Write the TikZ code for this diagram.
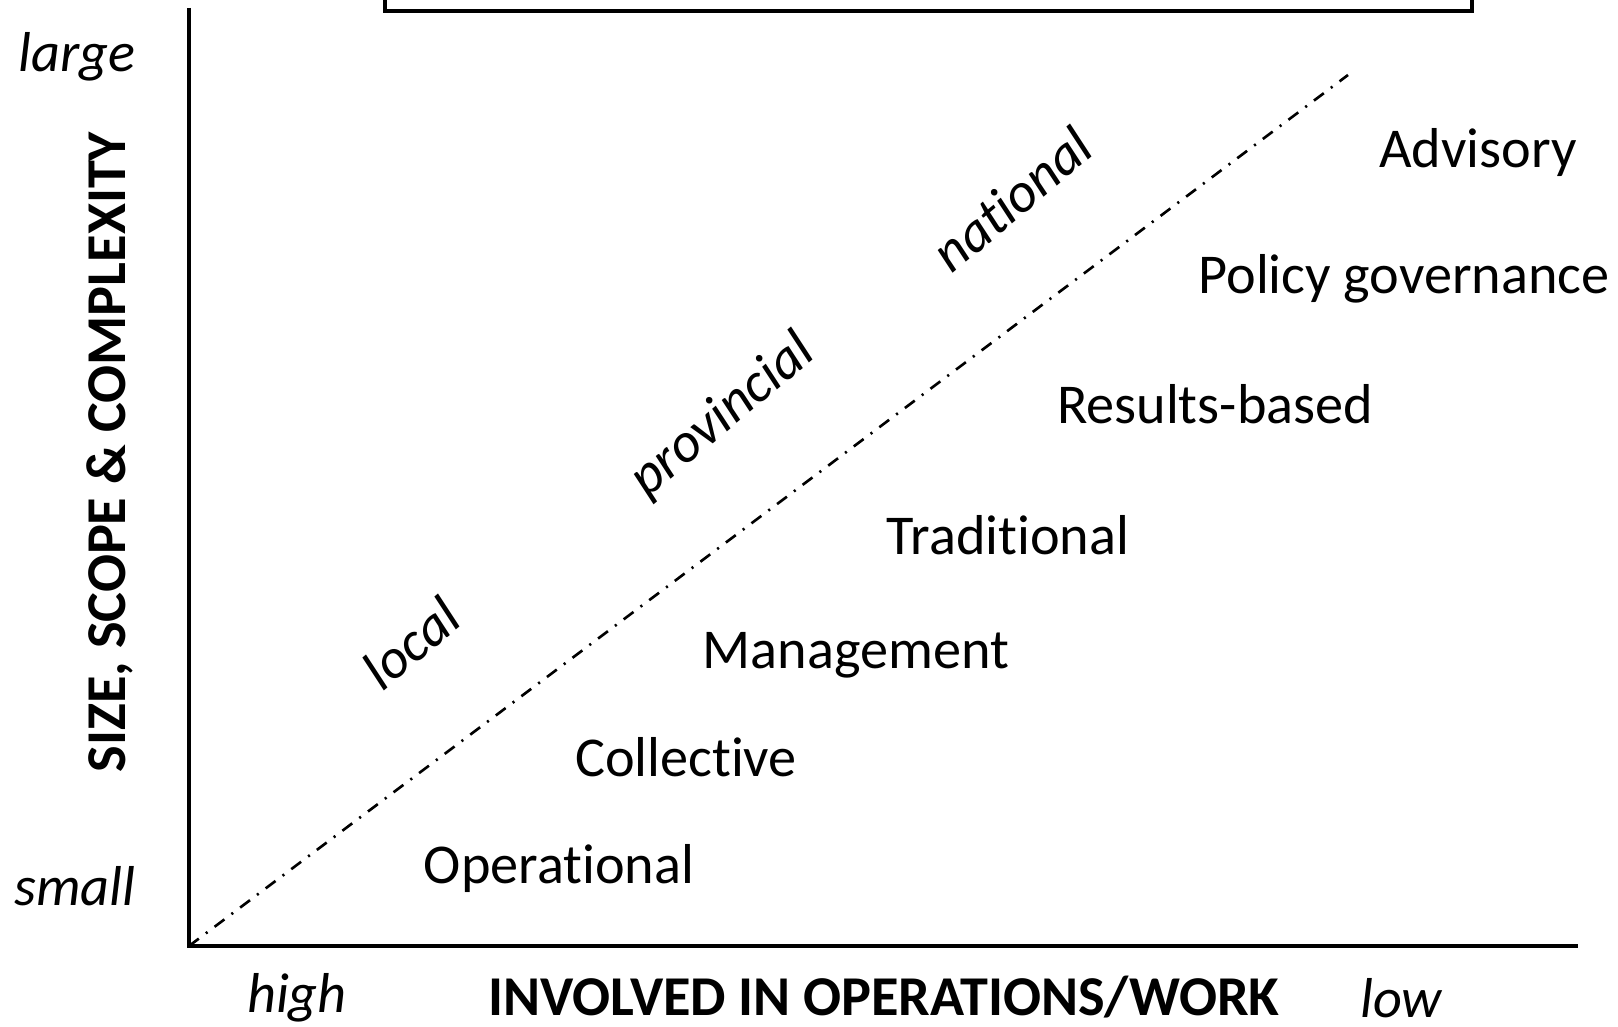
\documentclass[tikz,border=0pt]{standalone}
\usepackage{fontspec}
\setmainfont{Carlito}[Ligatures=NoCommon]
% keep t and i apart (no ti ligature)
\newcommand\tsep{t\kern0pt i}
\begin{document}
\begin{tikzpicture}[x=0.1mm,y=-0.1mm,
line join=miter,
kind/.style={font=\fontsize{16}{19}\selectfont,inner sep=0pt},
span/.style={font=\fontsize{16}{19}\selectfont\itshape,inner sep=0pt},
title/.style={font=\fontsize{16}{19}\selectfont\bfseries,inner sep=0pt},
axis/.style={line width=1.3pt},
split/.style={line width=0.75pt,dash pattern=on 3.5pt off 2.5pt on 0.6pt off 2.5pt},
]
\useasboundingbox (0,0) rectangle (1618,1027);
\coordinate (origin) at (189,946);
\coordinate (ytop) at (189,8);
\coordinate (xend) at (1578,946);
\coordinate (diagend) at (1348,75);
\draw[axis] (ytop) -- (origin) -- (xend);
\draw[split] (origin) -- (diagend);
% box at the top, cut by the page edge
\draw[axis] (385,-30) -- (385,11) -- (1472,11) -- (1472,-30);
\node[span] (large) at (77,57) {large};
\node[span] (small) at (75,886) {small};
\node[title,rotate=90] (ylab) at (110,452) {SIZE, SCOPE \& COMPLEXITY};
\node[span] (high) at (297,998) {high};
\node[title] (xlab) at (884,997) {INVOLVED IN OPERATIONS/WORK};
\node[span] (low) at (1401,998) {low};
\node[kind] (operational) at (559,868) {Opera\tsep onal};
\node[kind] (collective) at (686,757) {Collec\tsep ve};
\node[kind] (management) at (856,655) {Management};
\node[kind] (traditional) at (1008,535) {Tradi\tsep onal};
\node[kind] (results) at (1215,404) {Results-based};
\node[kind] (policy) at (1404,279) {Policy governance};
\node[kind] (advisory) at (1478,153) {Advisory};
\node[span,rotate=40] (local) at (411,643) {local};
\node[span,rotate=40] (provincial) at (723,416) {provincial};
\node[span,rotate=40] (national) at (1012,199) {national};
\end{tikzpicture}
\end{document}
